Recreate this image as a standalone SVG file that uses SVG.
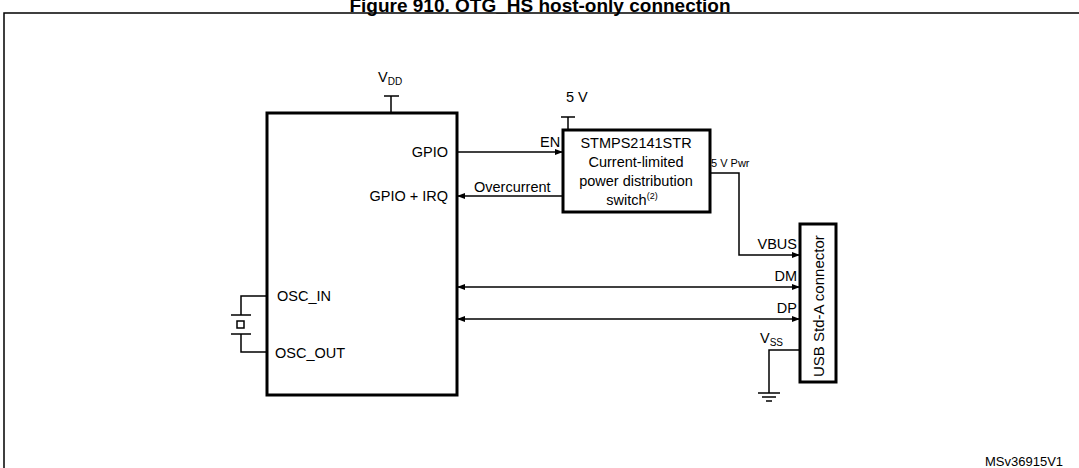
<svg xmlns="http://www.w3.org/2000/svg" width="1079" height="468" viewBox="0 0 1079 468">
<style>
text{font-family:"Liberation Sans",Arial,sans-serif;font-size:14.5px;fill:#000}
.w{fill:none;stroke:#000;stroke-width:1.5}
.b{fill:#fff;stroke:#000;stroke-width:3}
</style>
<defs>
<marker id="a" markerWidth="8" markerHeight="8" refX="7" refY="4" orient="auto-start-reverse" markerUnits="userSpaceOnUse"><path d="M0,1 L8,4 L0,7 Z" fill="#000"/></marker>
</defs>
<rect width="1079" height="468" fill="#fff"/>
<text x="540" y="12" text-anchor="middle" font-weight="bold" style="font-size:19px">Figure 910. OTG_HS host-only connection</text>
<rect x="4" y="13" width="1090" height="470" fill="none" stroke="#000" stroke-width="1.5"/>
<g id="connectors">
<path class="w" d="M391,96 V113 M384,96 H399"/>
<path class="w" d="M568,117 V130 M561,117 H575"/>
<path class="w" d="M457,152 H562" marker-end="url(#a)"/>
<path class="w" d="M563,196 H458" marker-end="url(#a)"/>
<path class="w" d="M710,173 H739 V255 H799" marker-end="url(#a)"/>
<path class="w" d="M458,287 H799" marker-start="url(#a)" marker-end="url(#a)"/>
<path class="w" d="M458,319 H799" marker-start="url(#a)" marker-end="url(#a)"/>
<path class="w" d="M800,350 H769 V393 M758,393 H780 M762,397 H776 M766,401 H772"/>
<path class="w" d="M267,296 H241 V315 M231,315 H251 M231,334 H251 M241,334 V352 H267"/>
<rect x="237" y="321" width="7" height="7" class="w"/>
</g>
<g id="mcu">
<rect x="267" y="113" width="190" height="282" class="b"/>
<text x="378" y="82">V<tspan style="font-size:10px" dy="3">DD</tspan></text>
<text x="448" y="157" text-anchor="end">GPIO</text>
<text x="448" y="201" text-anchor="end">GPIO + IRQ</text>
<text x="277" y="301">OSC_IN</text>
<text x="275" y="358">OSC_OUT</text>
</g>
<g id="switch">
<rect x="563" y="130" width="147" height="82" class="b"/>
<text x="566" y="102">5 V</text>
<text x="636" y="148" text-anchor="middle">STMPS2141STR</text>
<text x="636" y="167" text-anchor="middle">Current-limited</text>
<text x="636" y="186" text-anchor="middle">power distribution</text>
<text x="632" y="205" text-anchor="middle">switch<tspan style="font-size:9px" dy="-6">(2)</tspan></text>
<text x="540" y="147">EN</text>
<text x="474" y="192">Overcurrent</text>
<text x="711" y="167" style="font-size:11px">5 V Pwr</text>
</g>
<g id="usb">
<rect x="800" y="224" width="36" height="158" class="b"/>
<text transform="translate(824,377) rotate(-90)" style="font-size:15px">USB Std-A connector</text>
<text x="797" y="249" text-anchor="end">VBUS</text>
<text x="797" y="281" text-anchor="end">DM</text>
<text x="797" y="313" text-anchor="end">DP</text>
<text x="783" y="343" text-anchor="end">V<tspan style="font-size:10px" dy="3">SS</tspan></text>
</g>
<text x="985" y="466" style="font-size:13px">MSv36915V1</text>
</svg>
